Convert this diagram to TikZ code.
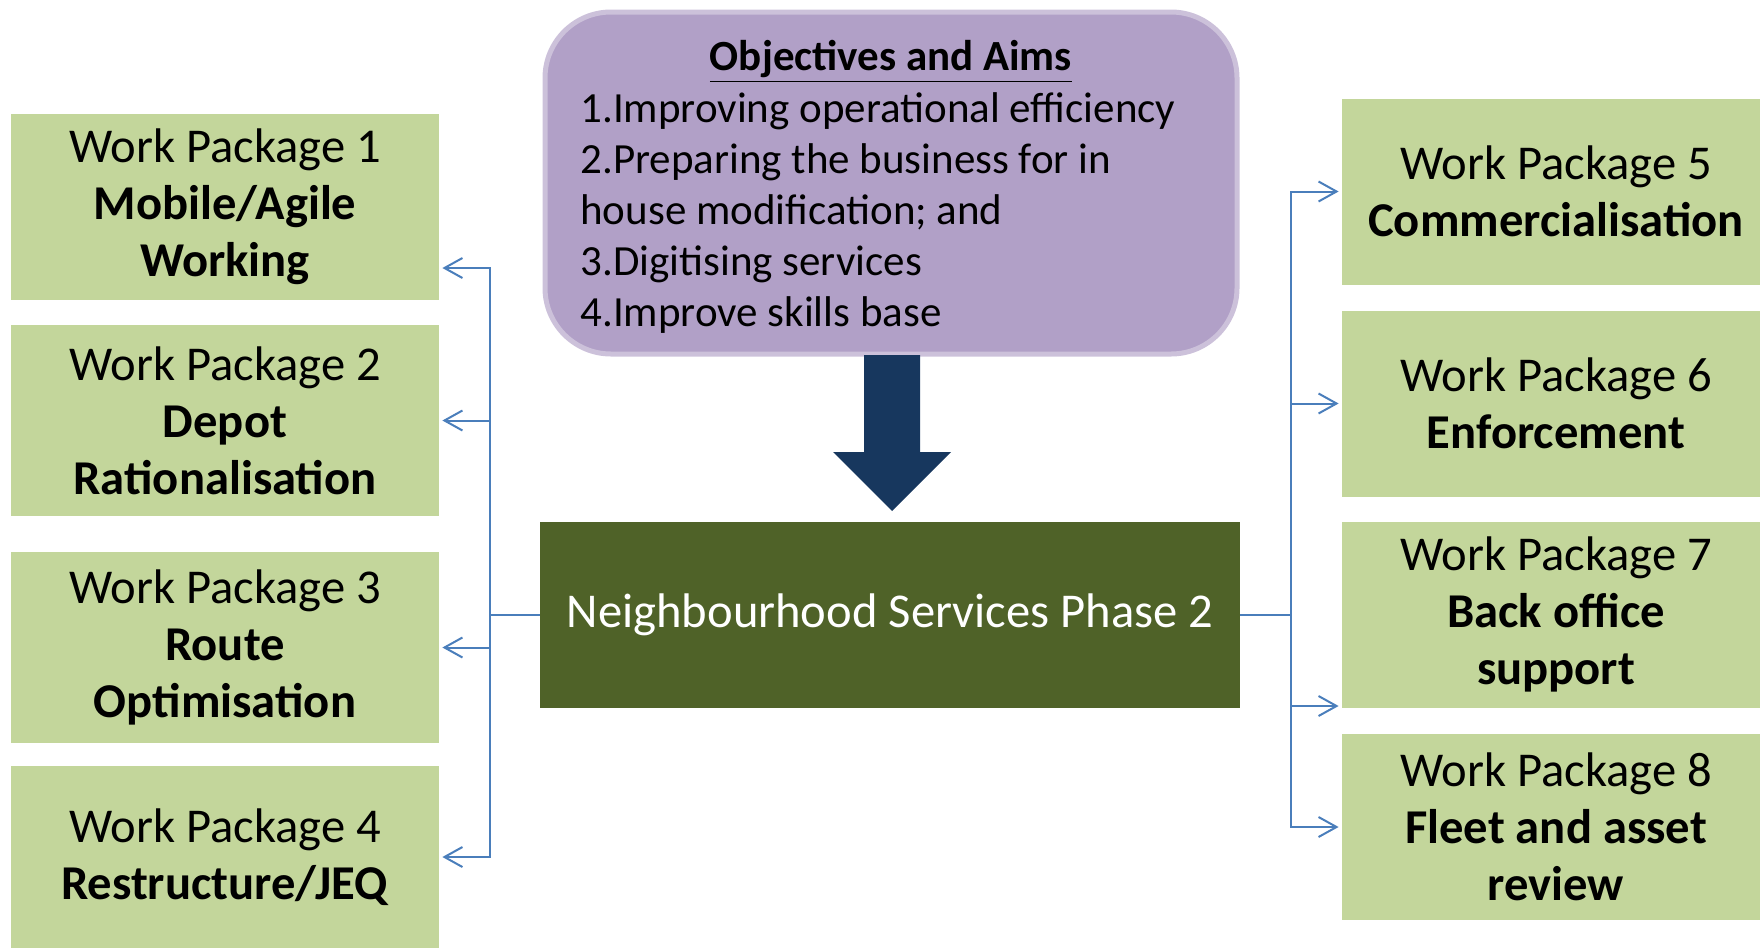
\documentclass[tikz,border=0pt]{standalone}
\usepackage{fontspec}
\setmainfont{Carlito}
\usepackage{tikz}
\usetikzlibrary{arrows.meta,positioning}
\usepackage{xcolor}
\definecolor{wpgreen}{HTML}{C3D69B}
\definecolor{hubgreen}{HTML}{4F6228}
\definecolor{aimfill}{HTML}{B1A0C7}
\definecolor{aimedge}{HTML}{CCC1DA}
\definecolor{navy}{HTML}{17375E}
\definecolor{linkblue}{HTML}{4A7EBB}

\begin{document}
\begin{tikzpicture}[x=0.5pt,y=-0.5pt]
    %styles
    \tikzstyle{wp}=[rectangle,fill=wpgreen,align=center,inner sep=0pt,minimum width=214pt,minimum height=93pt,font=\fontsize{24.3}{28.5}\selectfont]
    \tikzstyle{hub}=[rectangle,fill=hubgreen,text=white,align=center,minimum width=312pt,minimum height=93pt,font=\fontsize{24.3}{28.5}\selectfont]
    \tikzstyle{aims}=[rectangle,rounded corners=33pt,fill=aimfill,draw=aimedge,line width=2.5pt,minimum width=346pt,minimum height=171pt]
    \tikzstyle{aimtext}=[inner sep=0pt,font=\fontsize{21.5}{25.5}\selectfont]
    \tikzstyle{trunk}=[linkblue,line width=1pt]
    \tikzstyle{link}=[-{Straight Barb[length=9pt,width=10pt]},linkblue,line width=1pt,shorten >=1.5pt]
    \clip (0,0) rectangle (1760,948);
    %nodes
    \node[aims] (obj) at (891,183) {};
    \node[aimtext,font=\fontsize{21.5}{25.5}\selectfont\bfseries] (objtitle) at (891,61.5) {\underline{Objectives and Aims}};
    \node[aimtext,align=left,anchor=west] (objlist) at (580,213.5) {1.Improving operational efficiency\\2.Preparing the business for in\\house modification; and\\3.Digitising services\\4.Improve skills base};

    \node[hub,minimum width=350pt] (nsp) at (890,615) {Neighbourhood Services Phase 2};

    \node[wp] (wp1) at (225,207) {Work Package 1\\\textbf{Mobile/Agile}\\\textbf{Working}};
    \node[wp,minimum height=95.5pt] (wp2) at (225,420.5) {Work Package 2\\\textbf{Depot}\\\textbf{Rationalisation}};
    \node[wp,minimum height=95.5pt] (wp3) at (225,647.5) {Work Package 3\\\textbf{Route}\\\textbf{Optimisation}};
    \node[wp,minimum height=91pt] (wp4) at (225,857) {Work Package 4\\\textbf{Restructure/JEQ}};

    \node[wp] (wp5) at (1556,191.5) {Work Package 5\\\textbf{Commercialisation}};
    \node[wp] (wp6) at (1556,403.5) {Work Package 6\\\textbf{Enforcement}};
    \node[wp] (wp7) at (1556,614.5) {Work Package 7\\\textbf{Back office}\\\textbf{support}};
    \node[wp] (wp8) at (1556,827) {Work Package 8\\\textbf{Fleet and asset}\\\textbf{review}};

    \coordinate (lj) at (490,615);
    \coordinate (rj) at (1291,615);

    %big arrow
    \fill[navy] (864,355) -- (920,355) -- (920,452) -- (951,452) -- (892,511) -- (833,452) -- (864,452) -- cycle;

    %arrows
    \draw[trunk] (nsp.west)--(lj);
    \draw[link] (lj) |- ([yshift=-30.5pt]wp1.east);
    \draw[link] (lj) |- (wp2.east);
    \draw[link] (lj) |- (wp3.east);
    \draw[link] (lj) |- (wp4.east);

    \draw[trunk] (nsp.east)--(rj);
    \draw[link] (rj) |- (wp5.west);
    \draw[link] (rj) |- (wp6.west);
    \draw[link] (rj) |- ([yshift=-45.75pt]wp7.west);
    \draw[link] (rj) |- (wp8.west);

    \end{tikzpicture}
\end{document}
